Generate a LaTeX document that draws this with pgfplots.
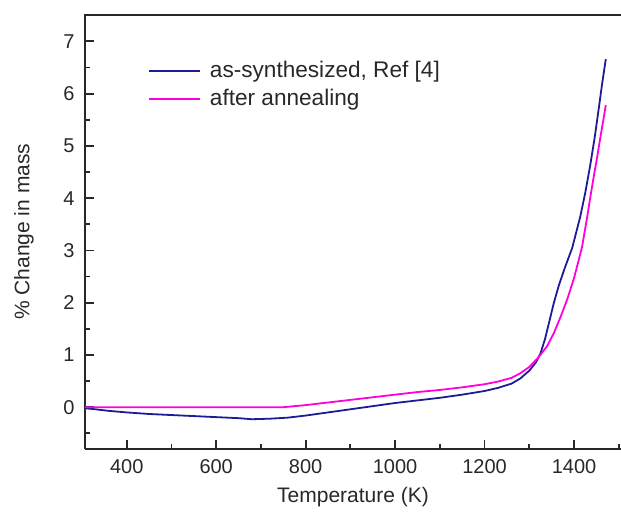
\documentclass[border=0pt]{standalone}
\usepackage{fontspec}
\setmainfont{Liberation Sans}
\usepackage{pgfplots}
\pgfplotsset{compat=1.18}
\definecolor{cblue}{RGB}{28,28,150}
\definecolor{cpink}{RGB}{255,0,220}
\definecolor{axgray}{RGB}{40,40,40}
\begin{document}
\begin{tikzpicture}
\useasboundingbox (-42.5pt,-33.5pt) rectangle (268pt,224.5pt);
\begin{axis}[
  at={(0pt,0pt)}, anchor=south west,
  scale only axis, width=268pt, height=217.15pt,
  xmin=306.7, xmax=1505, ymin=-0.80, ymax=7.51,
  axis lines*=left,
  axis line style={line width=1.1pt, axgray},
  xtick={400,600,...,1400}, minor xtick={500,700,...,1500},
  ytick={0,...,7}, minor ytick={-0.5,0.5,...,7.5},
  tick align=inside, major tick length=4.7pt, minor tick length=2.7pt,
  tick style={line width=0.9pt, axgray},
  /pgf/number format/1000 sep={},
  /pgf/number format/assume math mode=true,
  ticklabel style={font=\fontsize{10}{12}\selectfont, text=axgray},
  yticklabel style={xshift=-1.7pt},
  xticklabel style={yshift=-1.7pt},
  xlabel={Temperature (K)},
  ylabel={\% Change in mass},
  label style={font=\fontsize{10.5}{12.6}\selectfont, text=axgray},
  xlabel style={at={(axis description cs:0.5,-0.1105)}, anchor=center},
  ylabel style={at={(axis description cs:-0.1138,0.5)}, anchor=center},
  legend cell align=left,
  legend image code/.code={\draw[#1] (0pt,0pt) -- (25.8pt,0pt);},
  legend style={at={(axis description cs:0.1175,0.838)}, anchor=west,
    draw=none, fill=none, font=\fontsize{11.3}{13.5}\selectfont,
    inner sep=0pt, outer sep=0pt, row sep=0.3pt,
    nodes={text=axgray},
    /tikz/every odd column/.append style={column sep=2.3pt}},
]
\addplot[cblue, line width=0.9pt] coordinates {
(307,-0.02) (330,-0.04) (360,-0.07) (400,-0.10) (450,-0.13) (500,-0.15)
(550,-0.17) (600,-0.19) (650,-0.21) (680,-0.23) (720,-0.22) (760,-0.20)
(800,-0.16) (850,-0.10) (900,-0.04) (950,0.02) (1000,0.08) (1050,0.13)
(1100,0.18) (1150,0.24) (1200,0.31) (1230,0.37) (1260,0.45) (1280,0.55)
(1300,0.70) (1315,0.86) (1325,1.03) (1335,1.30) (1345,1.65) (1355,2.00)
(1366,2.33) (1380,2.68) (1396,3.05) (1414,3.65) (1425,4.10) (1436,4.62)
(1446,5.15) (1455,5.70) (1463,6.20) (1471,6.66)
};
\addlegendentry{as-synthesized, Ref [4]}
\addplot[cpink, line width=0.9pt] coordinates {
(307,0.00) (500,0.00) (700,0.00) (750,0.00) (800,0.04) (850,0.09)
(900,0.14) (950,0.19) (1000,0.24) (1050,0.29) (1100,0.33) (1150,0.38)
(1200,0.44) (1230,0.49) (1260,0.56) (1280,0.65) (1300,0.77) (1320,0.95)
(1340,1.17) (1355,1.42) (1370,1.73) (1385,2.07) (1400,2.47) (1410,2.80)
(1418,3.07) (1429,3.62) (1437,4.05) (1444,4.41) (1452,4.80) (1459,5.17)
(1466,5.52) (1471,5.78)
};
\addlegendentry{after annealing}
\end{axis}
\draw[line width=1.1pt, axgray] ([xshift=-0.55pt]current axis.north west) -- (current axis.north east);
\end{tikzpicture}
\end{document}
